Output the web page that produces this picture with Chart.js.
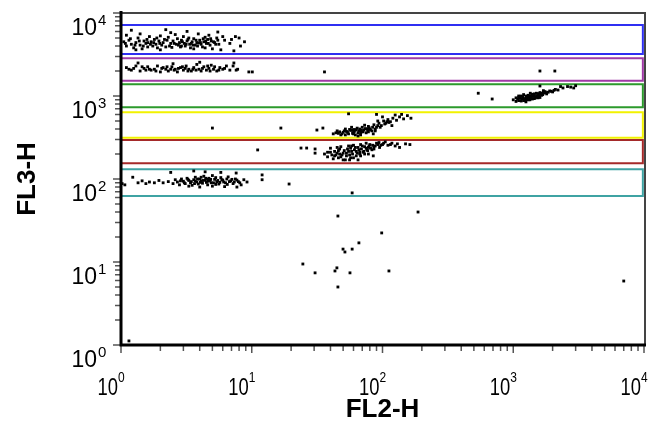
<!DOCTYPE html>
<html>
<head>
<meta charset="utf-8">
<script src="https://cdn.jsdelivr.net/npm/chart.js@4/dist/chart.umd.min.js"></script>
<style>
html,body{margin:0;padding:0;background:#fff;}
#c{display:block;}
</style>
</head>
<body>
<canvas id="c" width="648" height="426"></canvas>
<script>
// ---- axis info ----
const xTitle = 'FL2-H';
const yTitle = 'FL3-H';
const tickValues = [1, 10, 100, 1000, 10000];
const tickExponents = ['0', '1', '2', '3', '4'];

// ---- gates (FL3-H bands) ----
const gateColors = ['#2f2ff2', '#a03aa6', '#2c9a2c', '#f2f200', '#a52a2a', '#3fa3a3'];
const gateLow  = [3206, 1528, 731, 315, 155, 62.4];
const gateHigh = [7161, 2845, 1384, 637, 295, 131];
const gateXMin = 1.0;
const gateXMax = 9800;

// ---- events [FL2-H, FL3-H] ----
const blueCluster = [
  [1.05,4500],[1.1,4000],[1.15,4700],[1.2,4200],[1.25,3800],[1.3,4400],[1.35,5000],[1.4,4100],[1.45,3700],[1.5,4600],
  [1.55,4300],[1.6,3900],[1.65,5200],[1.7,4500],[1.75,4000],[1.8,4800],[1.85,4200],[1.9,3800],[1.95,4600],[2.0,5300],
  [2.05,4100],[2.1,4400],[2.2,3900],[2.25,4700],[2.3,5100],[2.4,4300],[2.45,3850],[2.5,4600],[2.6,5500],[2.65,4200],
  [2.7,4900],[2.8,4400],[2.85,3900],[2.9,4700],[3.0,5200],[3.05,4300],[3.1,4000],[3.2,4600],[3.3,5000],[3.35,4200],
  [3.4,3800],[3.5,4500],[3.6,4900],[3.7,4100],[3.8,4400],[3.9,5600],[4.0,4700],[4.1,4200],[4.2,3900],[4.3,4500],
  [4.4,5100],[4.5,4300],[4.6,4800],[4.7,5400],[4.8,4100],[4.9,4600],[5.0,3700],[5.2,4400],[5.4,5000],[5.6,4200],
  [5.8,3600],[6.2,4700],[6.8,4300],[7.5,5200],[8.2,4000],[8.8,4500],[3.2,6000],[1.2,6200],[5.5,5900],[2.4,5800],
  [7.3,3500],[8.0,5000],[1.1,5400],[1.3,3600],[2.0,3600],[3.6,3700],[4.4,3800],[2.9,4000],[1.6,4400],[3.9,4350],
  [1.08,4300],[1.18,4900],[1.28,4100],[1.38,4600],[1.48,4000],[1.58,4800],[1.68,4200],[1.78,4400],[1.88,5000],[1.98,4300],
  [2.15,4800],[2.35,4000],[2.55,4300],[2.75,4100],[2.95,4500],[3.15,4200],[3.25,4800],[3.45,4300],[3.55,4100],[3.75,4700],
  [3.85,4000],[4.05,4400],[4.25,4900],[4.45,4600],[4.65,4300],[4.85,4900],[5.1,4500],[5.3,4200],[5.5,4700],[1.4,5600],
  [2.2,6300],[6.0,5200],[7.0,4800]
];
const purpleCluster = [
  [1.1,2200],[1.2,2050],[1.3,2300],[1.4,2000],[1.5,2150],[1.6,2250],[1.7,2050],[1.8,2100],[1.9,2300],[2.0,1950],
  [2.1,2200],[2.2,2100],[2.3,2000],[2.45,2250],[2.6,2100],[2.7,1950],[2.85,2200],[3.0,2050],[3.15,2300],[3.3,2100],
  [3.45,2000],[3.6,2200],[3.8,2400],[3.95,2100],[4.1,2000],[4.3,2250],[4.5,2050],[4.7,2150],[4.9,2350],[5.1,2100],
  [5.4,2000],[5.7,2200],[6.0,2100],[6.4,2300],[6.8,2050],[7.3,2500],[7.8,2100],[9.5,1950],[2.5,2450],[1.35,2500],
  [4.0,2550],[7.2,2300],[7.6,2050],[10.1,1950],[36,1950],[1600,2000],[2080,2000],
  [1.15,2100],[1.25,2150],[1.45,2250],[1.65,2100],[1.85,2000],[2.05,2150],[2.25,2250],[2.55,2050],[2.75,2150],[2.95,2250],
  [3.25,2000],[3.55,2100],[3.75,2050],[4.2,2150],[4.6,2300],[4.8,2000],[5.2,2250],[5.6,2050],[6.2,2150],[1.55,2050],
  [2.4,2100],[3.1,2150]
];
const greenCluster = [
  [1000,900],[1050,950],[1100,880],[1150,1000],[1200,920],[1250,970],[1300,1020],[1350,940],[1400,1000],[1450,1060],
  [1500,980],[1550,1040],[1600,1100],[1650,1020],[1700,1080],[1750,1130],[1800,1060],[1900,1150],[2000,1120],[2100,1200],
  [2200,1180],[2400,1250],[2600,1300],[2750,1280],[3000,1330],[1100,960],[1200,1040],[1300,900],[1400,920],[1500,1080],
  [1250,850],[1600,960],[1150,870],[1350,1080],[1700,1160],[1600,1320],[2300,1300],[2900,1250],[1050,860],[1450,1000],
  [1550,950],[1250,900],[1350,990],[1450,930],[540,1080],[690,920],
  [1080,920],[1120,940],[1180,980],[1220,900],[1280,950],[1320,980],[1380,960],[1420,1020],[1480,950],[1520,1010],
  [1580,1000],[1620,1050],[1680,1040],[1720,1100],[1780,1100],[1850,1110],[1950,1140],[2050,1170],[1160,930],[1260,1000],
  [1360,1010],[1460,970],[1560,1070],[1100,1000],[1200,880],[1300,960],[1400,1050],[1240,930],[1340,900],[1640,1080]
];
const yellowCluster = [
  [42,350],[45,380],[48,340],[50,365],[52,400],[55,350],[57,385],[60,370],[62,340],[64,410],
  [66,380],[68,355],[70,420],[72,390],[75,360],[78,430],[80,400],[83,380],[86,450],[90,420],
  [94,470],[98,440],[102,500],[106,470],[110,520],[115,490],[120,540],[128,510],[135,560],[145,530],
  [155,580],[165,540],[58,420],[65,330],[73,445],[85,350],[92,500],[100,560],[125,590],[55,610],
  [90,600],[140,600],[118,440],[46,355],[53,375],[61,395],[69,370],[76,400],[5.0,411],[16.7,411],
  [31.5,389],[35,411],
  [44,360],[47,370],[49,350],[51,380],[54,365],[56,395],[59,355],[61,375],[63,390],[65,360],
  [67,400],[69,385],[71,370],[74,405],[77,385],[79,415],[81,390],[84,420],[88,400],[92,440],
  [96,420],[104,460],[108,490],[112,480],[52,340],[60,350],[68,340],[78,370],[88,380],[58,390]
];
const redCluster = [
  [36,200],[38,185],[40,210],[42,175],[44,195],[46,220],[48,185],[50,205],[52,170],[54,230],
  [56,195],[58,215],[60,180],[62,240],[64,205],[66,225],[68,190],[70,250],[72,215],[75,235],
  [78,200],[80,260],[83,225],[86,245],[90,270],[95,240],[100,260],[105,280],[110,255],[118,270],
  [125,250],[135,240],[150,265],[162,260],[45,240],[55,250],[65,170],[75,270],[85,190],[60,255],
  [50,170],[40,235],[47,200],[57,180],[67,210],[77,220],[11.1,224],[23.8,236],[26.3,236],[30.5,230],
  [30.5,205],
  [38,210],[41,195],[43,215],[45,205],[47,230],[49,195],[51,220],[53,205],[55,215],[57,235],
  [59,200],[61,225],[63,215],[65,240],[67,200],[69,230],[71,210],[73,245],[76,225],[79,250],
  [81,235],[84,255],[88,250],[92,260],[97,255],[102,270],[43,190],[48,245],[53,190],[58,250],
  [63,190],[68,260],[73,200],[78,240],[86,230],[94,275],[115,260],[130,265],[46,180],[56,170]
];
const tealCluster = [
  [1.07,85],[1.23,105],[1.35,90],[1.45,95],[1.55,88],[1.65,92],[1.8,90],[1.95,96],[2.1,90],[2.3,93],
  [2.5,88],[2.6,98],[2.7,92],[2.8,85],[2.9,100],[3.0,94],[3.1,88],[3.2,102],[3.3,96],[3.4,90],
  [3.5,84],[3.6,98],[3.7,105],[3.8,92],[3.9,87],[4.0,100],[4.1,95],[4.2,89],[4.3,108],[4.4,97],
  [4.5,91],[4.6,85],[4.7,102],[4.8,96],[4.9,90],[5.0,110],[5.2,99],[5.4,93],[5.6,87],[5.8,104],
  [6.0,97],[6.3,90],[6.6,106],[6.9,95],[7.2,88],[7.5,100],[7.9,93],[8.3,85],[8.7,98],[9.2,92],
  [3.3,82],[4.0,80],[5.0,82],[6.2,81],[7.7,80],[2.4,120],[3.6,125],[4.4,122],[5.8,120],[7.6,118],
  [12.0,112],[12.0,98],[1.02,88],
  [2.85,95],[3.05,90],[3.25,99],[3.45,93],[3.65,88],[3.85,100],[4.05,91],[4.25,96],[4.45,102],[4.65,94],
  [4.85,99],[5.1,90],[5.3,104],[5.5,96],[5.7,91],[5.9,98],[6.1,92],[6.45,100],[6.75,93],[7.05,99],
  [7.35,92],[7.7,97],[8.1,90],[4.1,105],[5.3,86],[6.5,86],[3.7,95],[4.6,99]
];
const scatteredEvents = [
  [19.3,87],[58.6,68],[45.6,35.8],[187,40],[98.6,22.4],[66,17],[49.9,14.3],[51.6,13.2],[58.6,14.3],
  [24.6,9.46],[30.5,7.4],[43.3,7.8],[44.8,8.5],[56.4,7.4],[112,7.8],[45.6,5.0],[7000,5.9],[1.15,1.12]
];

const allEvents = [].concat(blueCluster, purpleCluster, greenCluster, yellowCluster, redCluster, tealCluster, scatteredEvents)
  .map(p => ({x: p[0], y: p[1]}));

const gateDatasets = gateColors.map((col, i) => ({
  data: [
    {x: gateXMin, y: gateLow[i]}, {x: gateXMax, y: gateLow[i]},
    {x: gateXMax, y: gateHigh[i]}, {x: gateXMin, y: gateHigh[i]},
    {x: gateXMin, y: gateLow[i]}
  ],
  showLine: true,
  borderColor: col,
  borderWidth: 2,
  pointRadius: 0,
  fill: false,
  tension: 0
}));

const FONT = '"Liberation Sans", Arial, sans-serif';

const framePlugin = {
  id: 'frame',
  afterDatasetsDraw(chart) {
    const ctx = chart.ctx;
    const xs = chart.scales.x, ys = chart.scales.y;
    const L = xs.getPixelForValue(1), R = xs.getPixelForValue(10000);
    const T = ys.getPixelForValue(10000), B = ys.getPixelForValue(1);
    ctx.save();
    // top & right border
    ctx.strokeStyle = '#444';
    ctx.lineWidth = 2;
    ctx.beginPath();
    ctx.moveTo(L, T); ctx.lineTo(R + 1, T); ctx.lineTo(R + 1, B);
    ctx.stroke();
    // tick marks
    ctx.strokeStyle = '#555';
    ctx.lineWidth = 1.5;
    ctx.beginPath();
    for (let d = 0; d < 4; d++) {
      for (let m = 1; m <= 9; m++) {
        const v = m * Math.pow(10, d);
        const len = m === 1 ? 8 : 6;
        const px = xs.getPixelForValue(v);
        ctx.moveTo(px, B); ctx.lineTo(px, B + len);
        const py = ys.getPixelForValue(v);
        ctx.moveTo(L, py); ctx.lineTo(L - len, py);
      }
    }
    ctx.moveTo(R, B); ctx.lineTo(R, B + 8);
    ctx.moveTo(L, T); ctx.lineTo(L - 8, T);
    ctx.stroke();
    // thick axes
    ctx.strokeStyle = '#000';
    ctx.lineWidth = 3;
    ctx.beginPath();
    ctx.moveTo(L, T - 2); ctx.lineTo(L, B); ctx.lineTo(R + 2, B);
    ctx.stroke();
    // tick labels
    ctx.fillStyle = '#000';
    ctx.textBaseline = 'alphabetic';
    tickValues.forEach((v, i) => {
      // y axis
      const py = ys.getPixelForValue(v);
      ctx.font = '23px ' + FONT;
      ctx.textAlign = 'right';
      ctx.fillText('10', 97, py + 22);
      ctx.font = '15px ' + FONT;
      ctx.textAlign = 'left';
      ctx.fillText(tickExponents[i], 98, py + 12);
      // x axis (slightly condensed lettering)
      const px = xs.getPixelForValue(v);
      ctx.save();
      ctx.translate(px - 3, 0);
      ctx.scale(0.8, 1);
      ctx.font = '23px ' + FONT;
      ctx.textAlign = 'right';
      ctx.fillText('10', 0, 395);
      ctx.font = '15px ' + FONT;
      ctx.textAlign = 'left';
      ctx.fillText(tickExponents[i], 0, 382);
      ctx.restore();
    });
    // axis titles
    ctx.font = 'bold 26px ' + FONT;
    ctx.textAlign = 'center';
    ctx.fillText(xTitle, (L + R) / 2, 417);
    ctx.save();
    ctx.translate(35, (T + B) / 2);
    ctx.rotate(-Math.PI / 2);
    ctx.fillText(yTitle, 0, 0);
    ctx.restore();
    ctx.restore();
  }
};

new Chart(document.getElementById('c'), {
  type: 'scatter',
  data: {
    datasets: [{
      data: allEvents,
      pointStyle: 'rect',
      pointRadius: 2,
      pointBackgroundColor: '#000',
      pointBorderWidth: 0,
      showLine: false
    }].concat(gateDatasets)
  },
  options: {
    responsive: false,
    animation: false,
    events: [],
    layout: { padding: { left: 121, right: 4, top: 13, bottom: 81 } },
    plugins: { legend: { display: false }, tooltip: { enabled: false } },
    scales: {
      x: { type: 'logarithmic', min: 1, max: 10000, display: false },
      y: { type: 'logarithmic', min: 1, max: 10000, display: false }
    }
  },
  plugins: [framePlugin]
});
</script>
</body>
</html>
